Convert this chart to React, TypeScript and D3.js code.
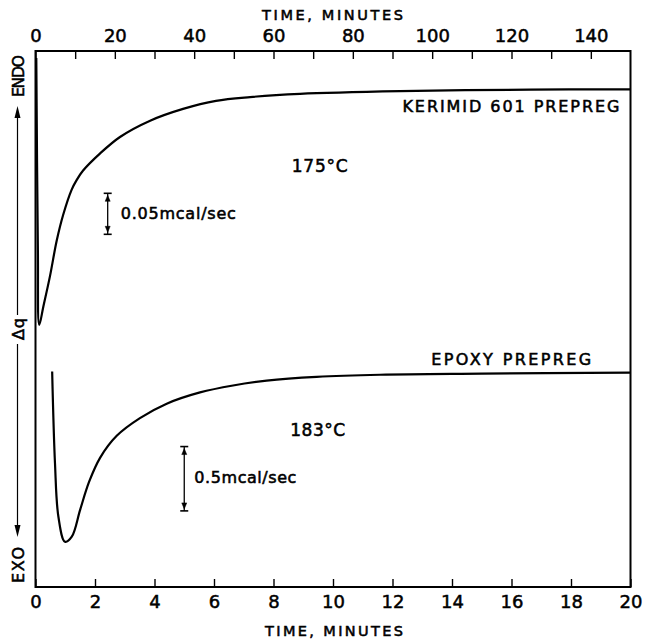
import React, { useEffect, useRef } from 'react';
import * as d3 from 'd3';

// Kerimid 601 prepreg at 175°C, read against the top time axis (0-150 min)
const kerimidTime = [0.2, 0.6, 0.95, 1.97, 3.65, 5.34, 7.0, 9.1, 10.4, 12.0, 16.3, 21.3, 28.9, 37.2, 45.5, 54.1, 66.7, 91.9, 124.7, 150];
const kerimidDq = [98.7, 62.9, 48.9, 52.3, 58.0, 64.6, 69.5, 74.1, 75.95, 77.7, 80.9, 83.96, 87.0, 89.2, 90.7, 91.4, 92.0, 92.5, 92.8, 92.85];

// Epoxy prepreg at 183°C, read against the bottom time axis (0-20 min)
const epoxyTime = [0.56, 0.655, 0.77, 0.99, 1.22, 1.5, 1.8, 2.17, 2.73, 3.51, 4.41, 5.53, 6.64, 7.77, 9.45, 11.58, 15.0, 20];
const epoxyDq = [40.2, 23.1, 13.1, 8.45, 9.4, 14.4, 19.6, 24.1, 28.2, 31.5, 34.2, 36.3, 37.6, 38.5, 39.2, 39.6, 39.8, 40.0];

const topTicks = [0, 20, 40, 60, 80, 100, 120, 140];
const topMinorTicks = [10, 30, 50, 70, 90, 110, 130];
const bottomTicks = [0, 2, 4, 6, 8, 10, 12, 14, 16, 18, 20];

const W = 647;
const H = 642;
const left = 35.5;
const right = 630.5;
const top = 51;
const bottom = 587;

const font = "'DejaVu Sans', sans-serif";

export default function App() {
  const ref = useRef<SVGSVGElement>(null);

  useEffect(() => {
    const svg = d3.select(ref.current);
    svg.selectAll('*').remove();

    const xTop = d3.scaleLinear().domain([0, 150]).range([left, right]);
    const xBot = d3.scaleLinear().domain([0, 20]).range([left, right]);
    const y = d3.scaleLinear().domain([0, 100]).range([bottom, top]);

    const styleTicks = (g: any) => {
      g.select('.domain').remove();
      g.selectAll('line').attr('stroke', '#000').attr('stroke-width', 1.4);
      g.selectAll('text')
        .attr('font-family', font)
        .attr('font-size', 18)
        .attr('fill', '#000')
        .attr('stroke', '#000')
        .attr('stroke-width', 0.5);
    };

    // top axis, ticks pointing in
    const topAxis = d3.axisTop(xTop).tickValues(topTicks).tickSize(-8).tickPadding(9).tickFormat(d => d + '');
    svg.append('g').attr('transform', `translate(0,${top})`).call(topAxis).call(styleTicks);

    const minor = d3.axisTop(xTop).tickValues(topMinorTicks).tickSize(-8).tickFormat(() => '');
    svg.append('g').attr('transform', `translate(0,${top})`).call(minor).call(styleTicks);

    // bottom axis
    const botAxis = d3.axisBottom(xBot).tickValues(bottomTicks).tickSize(-8).tickPadding(8).tickFormat(d => d + '');
    svg.append('g').attr('transform', `translate(0,${bottom})`).call(botAxis).call(styleTicks);

    // frame
    svg.append('rect')
      .attr('x', left)
      .attr('y', top)
      .attr('width', right - left)
      .attr('height', bottom - top)
      .attr('fill', 'none')
      .attr('stroke', '#000')
      .attr('stroke-width', 2);

    const label = (x: number, yy: number, txt: string, size: number, len: number) =>
      svg.append('text')
        .attr('x', x).attr('y', yy)
        .attr('textLength', len).attr('lengthAdjust', 'spacing')
        .attr('font-family', font).attr('font-size', size)
        .attr('stroke', '#000').attr('stroke-width', 0.55)
        .text(txt);

    // axis titles
    label(262, 20, 'TIME, MINUTES', 14.5, 141);
    label(265, 635.5, 'TIME, MINUTES', 14.5, 138);

    // curves
    const kerimid = kerimidTime.map((t, i) => [t, kerimidDq[i]] as [number, number]);
    const epoxy = epoxyTime.map((t, i) => [t, epoxyDq[i]] as [number, number]);

    const lineTop = d3.line<[number, number]>().x(d => xTop(d[0])).y(d => y(d[1])).curve(d3.curveCatmullRom.alpha(0.5));
    const lineBot = d3.line<[number, number]>().x(d => xBot(d[0])).y(d => y(d[1])).curve(d3.curveCatmullRom.alpha(0.5));

    svg.append('path').attr('d', lineTop(kerimid)).attr('fill', 'none').attr('stroke', '#000').attr('stroke-width', 2.2);
    svg.append('path').attr('d', lineBot(epoxy)).attr('fill', 'none').attr('stroke', '#000').attr('stroke-width', 2.2);

    // labels
    label(xTop(92.5), 112, 'KERIMID 601 PREPREG', 16, 217);
    label(xBot(13.3), 365, 'EPOXY PREPREG', 16, 160);
    label(xTop(64.6), 172, '175°C', 17, 56);
    label(xBot(8.56), 436, '183°C', 17, 55);
    label(xTop(21.5), 219, '0.05mcal/sec', 16, 115);
    label(xBot(5.34), 483, '0.5mcal/sec', 16, 102);

    // scale bars
    const scaleBar = (x: number, y1: number, y2: number) => {
      const g = svg.append('g').attr('stroke', '#000').attr('fill', '#000');
      g.append('line').attr('x1', x).attr('x2', x).attr('y1', y1).attr('y2', y2).attr('stroke-width', 1.3);
      g.append('line').attr('x1', x - 4).attr('x2', x + 4).attr('y1', y1).attr('y2', y1).attr('stroke-width', 1.6);
      g.append('line').attr('x1', x - 4).attr('x2', x + 4).attr('y1', y2).attr('y2', y2).attr('stroke-width', 1.6);
      g.append('path').attr('d', `M${x - 2.5},${y1 + 8}L${x + 2.5},${y1 + 8}L${x},${y1 + 2}Z`).attr('stroke-width', 0.5);
      g.append('path').attr('d', `M${x - 2.5},${y2 - 8}L${x + 2.5},${y2 - 8}L${x},${y2 - 2}Z`).attr('stroke-width', 0.5);
    };
    scaleBar(xTop(18.2), y(73.45), y(65.8));
    scaleBar(xBot(5.0), y(26.2), y(14.2));

    // left Δq axis annotation
    const lx = 17.5;
    const vlabel = (cy: number, txt: string, size: number, len: number) =>
      svg.append('text')
        .attr('transform', `translate(${lx + 6.5},${cy}) rotate(-90)`)
        .attr('text-anchor', 'middle')
        .attr('textLength', len).attr('lengthAdjust', 'spacing')
        .attr('font-family', font).attr('font-size', size)
        .attr('stroke', '#000').attr('stroke-width', 0.55)
        .text(txt);
    vlabel(76, 'ENDO', 15.5, 42);
    vlabel(329, 'Δq', 16, 22);
    vlabel(565, 'EXO', 16, 36);

    svg.append('line').attr('x1', lx).attr('x2', lx).attr('y1', 110).attr('y2', 315).attr('stroke', '#000').attr('stroke-width', 1.2);
    svg.append('line').attr('x1', lx).attr('x2', lx).attr('y1', 344).attr('y2', 530).attr('stroke', '#000').attr('stroke-width', 1.2);
    svg.append('path').attr('d', `M${lx - 3},${118}L${lx + 3},${118}L${lx},${106}Z`).attr('fill', '#000');
    svg.append('path').attr('d', `M${lx - 3},${525}L${lx + 3},${525}L${lx},${537}Z`).attr('fill', '#000');
  }, []);

  return (
    <svg
      ref={ref}
      width={W}
      height={H}
      style={{ position: 'absolute', left: 0, top: 0, background: '#fff' }}
    />
  );
}
